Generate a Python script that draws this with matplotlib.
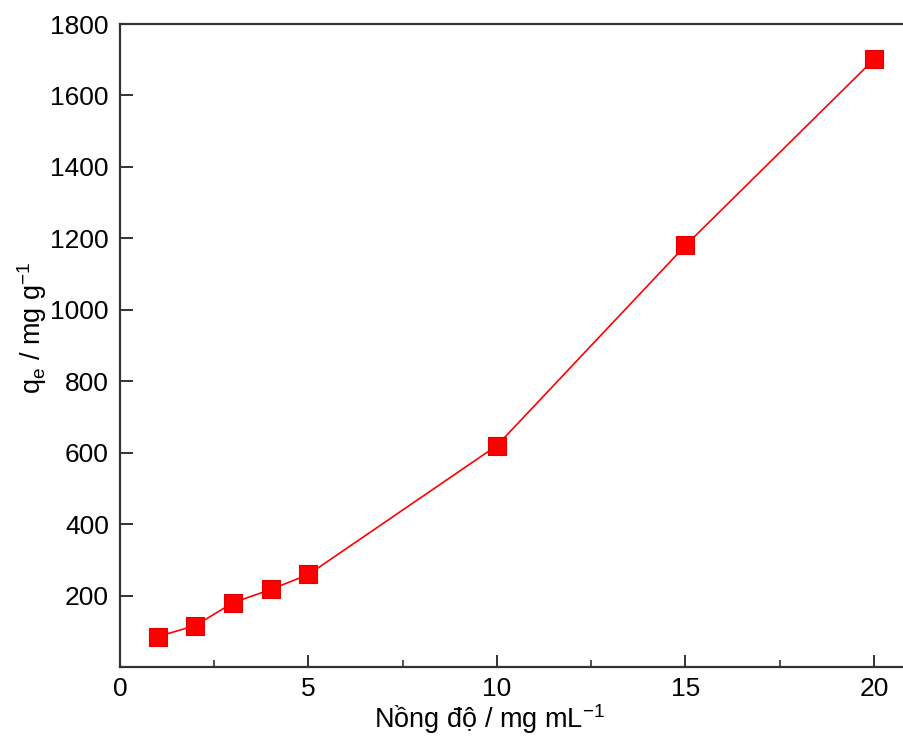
import numpy as np
import matplotlib.pyplot as plt
from matplotlib.ticker import MultipleLocator

plt.rcParams['font.family'] = ['Liberation Sans', 'DejaVu Sans']
plt.rcParams['mathtext.default'] = 'regular'

nong_do = [1, 2, 3, 4, 5, 10, 15, 20]
qe = [85, 116, 180, 217, 259, 620, 1180, 1701]

fig = plt.figure(figsize=(9.04, 7.44), dpi=100)
ax = fig.add_axes([0.1327, 0.1035, 0.8758, 0.8642])

ax.plot(nong_do, qe, color='#ff0000', lw=1.2, marker='s', ms=12.5,
        mfc='#ff0000', mec='#e00000', mew=0.8)

ax.set_xlim(0, 21)
ax.set_ylim(0, 1800)
ax.xaxis.set_major_locator(MultipleLocator(5))
ax.xaxis.set_minor_locator(MultipleLocator(2.5))
ax.set_yticks(np.arange(200, 1801, 200))

for s in ax.spines.values():
    s.set_linewidth(1.6)
    s.set_color('#333333')
ax.tick_params(which='major', direction='in', length=9, width=1.4,
               labelsize=19, top=False, right=False, color='#333333')
ax.tick_params(which='minor', direction='in', length=5, width=1.2,
               top=False, right=False, color='#333333')
ax.tick_params(axis='x', pad=7)
ax.tick_params(axis='y', pad=8)

ax.set_xlabel('Nồng độ / mg mL$^{-1}$', fontsize=19.5, labelpad=3)
ax.xaxis.set_label_coords(0.467, -0.055)
ax.set_ylabel('q$_{e}$ / mg g$^{-1}$', fontsize=19.5, labelpad=6)
ax.yaxis.set_label_coords(-0.09, 0.527)

fig.savefig('out.png', dpi=100)
